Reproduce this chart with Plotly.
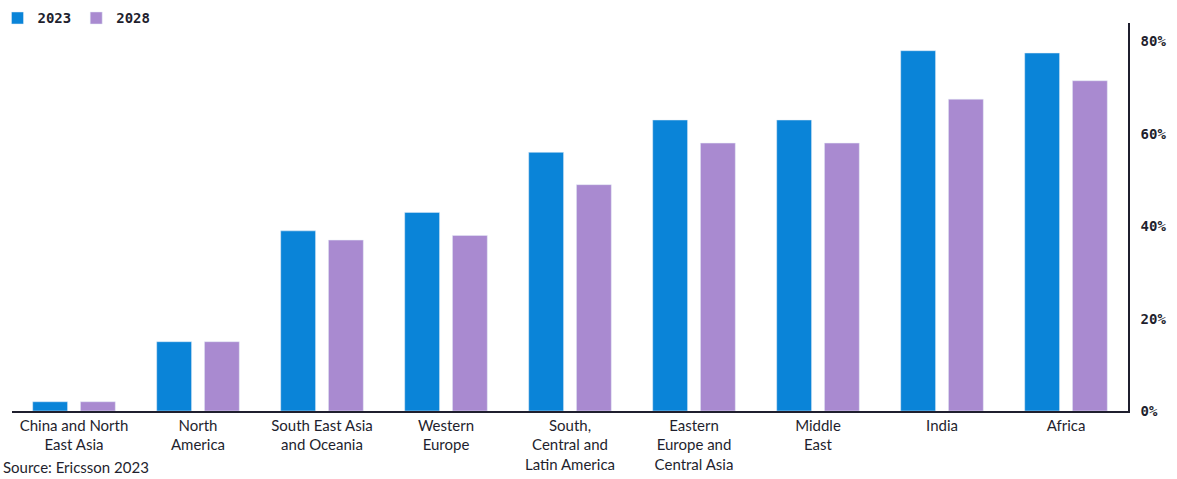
import plotly.graph_objects as go

regions = [
    "China and North<br>East Asia",
    "North<br>America",
    "South East Asia<br>and Oceania",
    "Western<br>Europe",
    "South,<br>Central and<br>Latin America",
    "Eastern<br>Europe and<br>Central Asia",
    "Middle<br>East",
    "India",
    "Africa",
]
share_2023 = [2, 15, 39, 43, 56, 63, 63, 78, 77.5]
share_2028 = [2, 15, 37, 38, 49, 58, 58, 67.5, 71.5]

BLUE = "#0A84D8"
PURPLE = "#A98AD0"
INK = "#1f1f2e"

fig = go.Figure()
fig.add_trace(go.Bar(name="2023", x=regions, y=share_2023, marker_color=BLUE))
fig.add_trace(go.Bar(name="2028", x=regions, y=share_2028, marker_color=PURPLE))

fig.update_layout(
    width=1177,
    height=479,
    barmode="group",
    bargap=0.23,
    bargroupgap=0.27,
    plot_bgcolor="white",
    paper_bgcolor="white",
    margin=dict(l=12, r=49, t=23, b=68, autoexpand=False),
    legend=dict(
        orientation="h",
        x=-0.013,
        y=0.995,
        xref="paper",
        yref="container",
        xanchor="left",
        yanchor="top",
        font=dict(family="DejaVu Sans Mono", size=14, color=INK, weight="bold"),
        itemwidth=30,
        traceorder="normal",
        bgcolor="rgba(0,0,0,0)",
    ),
    font=dict(family="Lato", size=14, color=INK),
)
fig.update_xaxes(
    showline=True,
    linecolor=INK,
    linewidth=1.5,
    ticks="",
    tickfont=dict(family="Lato", size=15, color=INK),
    showgrid=False,
)
fig.update_yaxes(
    side="right",
    range=[0, 84],
    dtick=20,
    ticksuffix="%",
    showline=True,
    linecolor=INK,
    linewidth=1.5,
    showgrid=False,
    zeroline=False,
    ticks="",
    ticklabelstandoff=8,
    tickfont=dict(family="DejaVu Sans Mono", size=14, color=INK, weight="bold"),
)
fig.add_annotation(
    text="Source: Ericsson 2023",
    xref="paper",
    yref="paper",
    x=-0.01,
    y=-0.172,
    xanchor="left",
    yanchor="bottom",
    showarrow=False,
    font=dict(family="Lato", size=15, color=INK),
)

fig.write_html("out.html")
